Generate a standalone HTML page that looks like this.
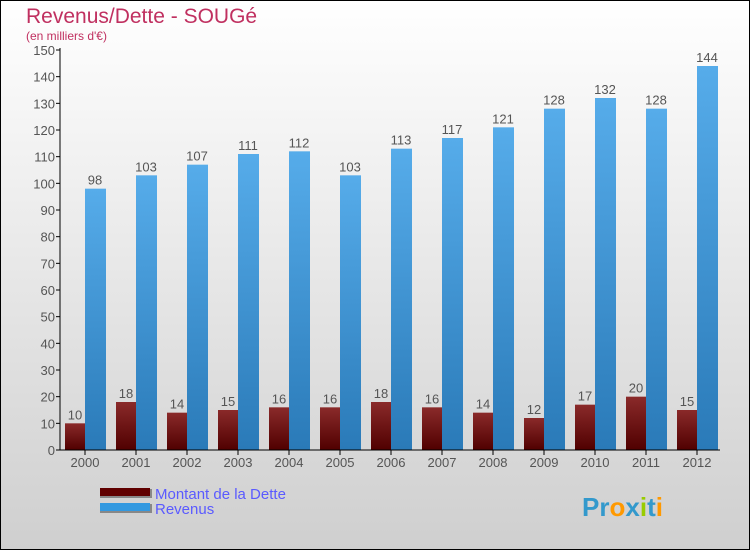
<!DOCTYPE html>
<html><head><meta charset="utf-8"><style>
body{margin:0;width:750px;height:550px;overflow:hidden}
svg{display:block}
text{font-family:"Liberation Sans","DejaVu Sans",sans-serif}
</style></head><body>
<svg id="c" width="750" height="550" xmlns="http://www.w3.org/2000/svg">
<defs>
<linearGradient id="bg" x1="0" y1="0" x2="0" y2="1"><stop offset="0" stop-color="#ffffff"/><stop offset="1" stop-color="#cfcfcf"/></linearGradient>
<linearGradient id="gd" x1="0" y1="0" x2="0" y2="1"><stop offset="0" stop-color="#8a2a2a"/><stop offset="1" stop-color="#500000"/></linearGradient>
<linearGradient id="gr" x1="0" y1="0" x2="0" y2="1"><stop offset="0" stop-color="#56acea"/><stop offset="1" stop-color="#2a7ab8"/></linearGradient>
</defs>
<rect x="0.5" y="0.5" width="749" height="549" fill="url(#bg)" stroke="#000"/>
<text x="26" y="23" font-size="21" fill="#c03060">Revenus/Dette - SOUGé</text>
<text x="26" y="40" font-size="12" fill="#c03060">(en milliers d'€)</text>
<g id="plot"></g>
<rect x="100" y="489" width="52" height="9" fill="#888"/>
<rect x="100" y="488" width="50" height="8" fill="#600000"/>
<text x="155" y="499" font-size="15" fill="#5a5aff">Montant de la Dette</text>
<rect x="100" y="504" width="52" height="9" fill="#888"/>
<rect x="100" y="503" width="50" height="8" fill="#3399e0"/>
<text x="155" y="514" font-size="15" fill="#5a5aff">Revenus</text>
<text x="582" y="516" font-size="26" font-weight="bold"><tspan fill="#3399cc">Pr</tspan><tspan fill="#ff9900">o</tspan><tspan fill="#3399cc">x</tspan><tspan fill="#99cc00">i</tspan><tspan fill="#3399cc">t</tspan><tspan fill="#ff9900">i</tspan></text>
</svg>
<script>
const years=["2000","2001","2002","2003","2004","2005","2006","2007","2008","2009","2010","2011","2012"];
const dette=[10,18,14,15,16,16,18,16,14,12,17,20,15];
const revenus=[98,103,107,111,112,103,113,117,121,128,132,128,144];
const yTicks=[0,10,20,30,40,50,60,70,80,90,100,110,120,130,140,150];
const NS="http://www.w3.org/2000/svg";
const g=document.getElementById('plot');
const y=v=>450-v*400/150;
const xc=i=>85+i*51;
function el(t,a,txt){const e=document.createElementNS(NS,t);for(const k in a)e.setAttribute(k,a[k]);if(txt!==undefined)e.textContent=txt;g.appendChild(e);return e;}
yTicks.forEach(v=>{
 const l=el('line',{x1:56,x2:60,y1:y(v),y2:y(v),stroke:'#000'});
 
 
 const t=el('text',{x:55,y:y(v)+5,'font-size':13,fill:'#555','text-anchor':'end'},v);
 
 
});
years.forEach((yr,i)=>{
 const c=xc(i);
 const d=el('rect',{x:c-20,y:y(dette[i]),width:20,height:450-y(dette[i]),fill:'url(#gd)'});
 
 
 const r=el('rect',{x:c,y:y(revenus[i]),width:21,height:450-y(revenus[i]),fill:'url(#gr)'});
 
 
 const dl=el('text',{x:c-10,y:y(dette[i])-4,'font-size':13,fill:'#555','text-anchor':'middle'},dette[i]);
 
 
 const rl=el('text',{x:c+10,y:y(revenus[i])-4,'font-size':13,fill:'#555','text-anchor':'middle'},revenus[i]);
 
 
 const tk=el('line',{x1:c,x2:c,y1:450,y2:455,stroke:'#000'});
 
 
 const xl=el('text',{x:c,y:467,'font-size':13,fill:'#555','text-anchor':'middle'},yr);
 
 
});
const ax=el('line',{x1:60,x2:60,y1:48,y2:450,stroke:'#000'});


const bx=el('line',{x1:60,x2:720,y1:450,y2:450,stroke:'#000'});


</script>
</body></html>
